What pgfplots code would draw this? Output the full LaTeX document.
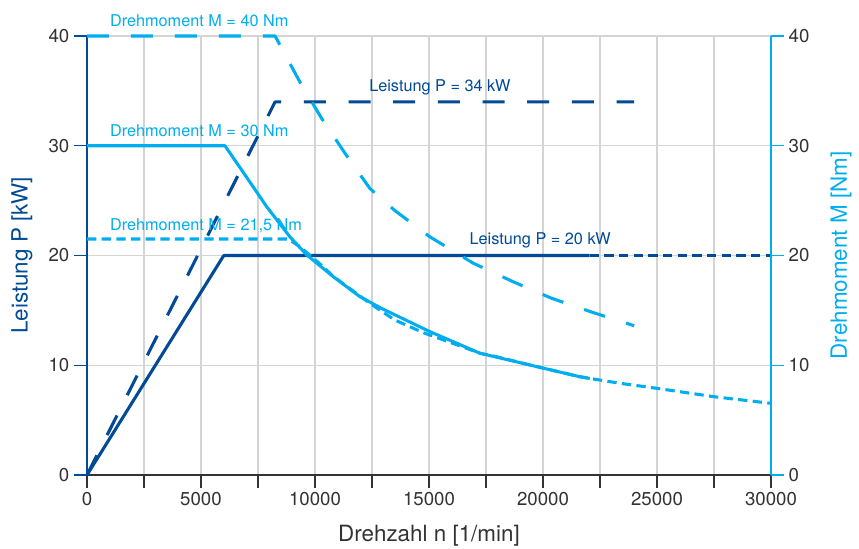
\documentclass[border=0pt]{standalone}
\usepackage{fontspec}
\setmainfont{TeX Gyre Heros}
\usepackage{pgfplots}
\pgfplotsset{compat=1.18}

\definecolor{dblue}{RGB}{0,74,150}
\definecolor{lblue}{RGB}{0,174,239}
\definecolor{tickgray}{RGB}{51,51,51}
\definecolor{gridgray}{RGB}{212,212,212}

\begin{document}
\begin{tikzpicture}
\pgfplotsset{
  every axis/.append style={
    width=513pt, height=329.25pt, scale only axis,
    xmin=0, xmax=30000, ymin=0, ymax=40,
    ytick={0,10,...,40},
    tick label style={font=\fontsize{14}{14}\selectfont, text=tickgray},
    /pgf/number format/assume math mode=true,
    major tick length=9.75pt, minor tick length=9.75pt,
    tick align=outside,
    label style={font=\fontsize{16.8}{16.8}\selectfont},
  },
}

\begin{axis}[
  axis x line*=bottom, axis y line*=left,
  xtick={0,5000,...,30000}, minor xtick={2500,7500,...,27500},
  scaled x ticks=false,
  xticklabel style={/pgf/number format/1000 sep={}},
  grid=both,
  major grid style={gridgray, line width=1.1pt},
  minor grid style={gridgray, line width=1.1pt},
  x axis line style={tickgray, line width=1.1pt, -},
  y axis line style={dblue, line width=1.1pt, -},
  xtick style={tickgray, line width=1.1pt},
  ytick style={dblue, line width=1.1pt},
  xlabel={Drehzahl n [1/min]},
  xlabel style={at={(rel axis cs:0.5,-0.152)}, anchor=base, text=tickgray},
  ylabel={Leistung P [kW]},
  ylabel style={at={(rel axis cs:-0.0867,0.5)}, rotate=0, anchor=base, text=dblue},
  clip=false,
]
% Leistung P = 20 kW
\addplot[dblue, line width=2.3pt, line join=round] coordinates {(0,0) (6000,20) (22050,20)};
\addplot[dblue, line width=2.3pt, dash pattern=on 7pt off 4pt] coordinates {(22050,20) (30000,20)};
% Leistung P = 34 kW
\addplot[dblue, line width=2.3pt, line join=round, dash pattern=on 16.5pt off 17pt] coordinates {(0,0) (8250,34) (24000,34)};

% Drehmoment M = 30 Nm
\addplot[lblue, line width=2.3pt, line join=round] coordinates {
  (0,30) (6050,30) (6780,27.8) (7880,24.45) (8900,21.7) (9640,20.05) (10800,18.07)
  (11970,16.25) (12900,15.2) (15040,13.06) (17240,11.09) (19430,10.02) (21600,8.96) (22050,8.8)
};
% Drehmoment M = 21,5 Nm
\addplot[lblue, line width=2.3pt, line join=round, dash pattern=on 7pt off 4pt] coordinates {
  (0,21.5) (8830,21.5) (9340,20.8) (10290,19.1) (10800,18.1) (12410,15.64) (13500,14.12)
  (14750,12.97) (16650,11.54) (17240,11.09) (17960,10.78) (19430,10.02) (21600,8.96)
  (22050,8.8) (23400,8.35) (24980,7.9) (27470,7.14) (30000,6.53)
};
% Drehmoment M = 40 Nm
\addplot[lblue, line width=2.3pt, line join=round, dash pattern=on 16.5pt off 16.5pt] coordinates {
  (0,40) (8250,40) (9340,35.8) (10290,32.5) (11320,29.3) (12410,26.1) (13500,24.1)
  (15040,21.7) (16940,19.3) (18700,17.6) (20380,16.1) (22200,14.8) (24000,13.6)
};

\begin{scope}[every node/.style={inner sep=0pt, anchor=base west, font=\fontsize{12.2}{12.2}\selectfont}]
\node[text=lblue] at (axis cs:1000,40.85) {Drehmoment M = 40 Nm};
\node[text=lblue] at (axis cs:1000,30.83) {Drehmoment M = 30 Nm};
\node[text=lblue] at (axis cs:1000,22.26) {Drehmoment M = 21,5 Nm};
\node[text=dblue] at (axis cs:12370,34.92) {Leistung P = 34 kW};
\node[text=dblue] at (axis cs:16770,20.96) {Leistung P = 20 kW};
\end{scope}

\coordinate (bl) at (rel axis cs:-0.1272,-0.1686);
\coordinate (tr) at (rel axis cs:1.1287,1.0820);
\end{axis}

\begin{axis}[
  axis x line=none, axis y line*=right,
  y axis line style={lblue, line width=1.1pt, -},
  ytick style={lblue, line width=1.1pt},
  ylabel={Drehmoment M [Nm]},
  ylabel style={at={(rel axis cs:1.111,0.5)}, rotate=0, anchor=base, text=lblue},
]
\end{axis}

\pgfresetboundingbox
\useasboundingbox (bl) rectangle (tr);
\end{tikzpicture}
\end{document}
